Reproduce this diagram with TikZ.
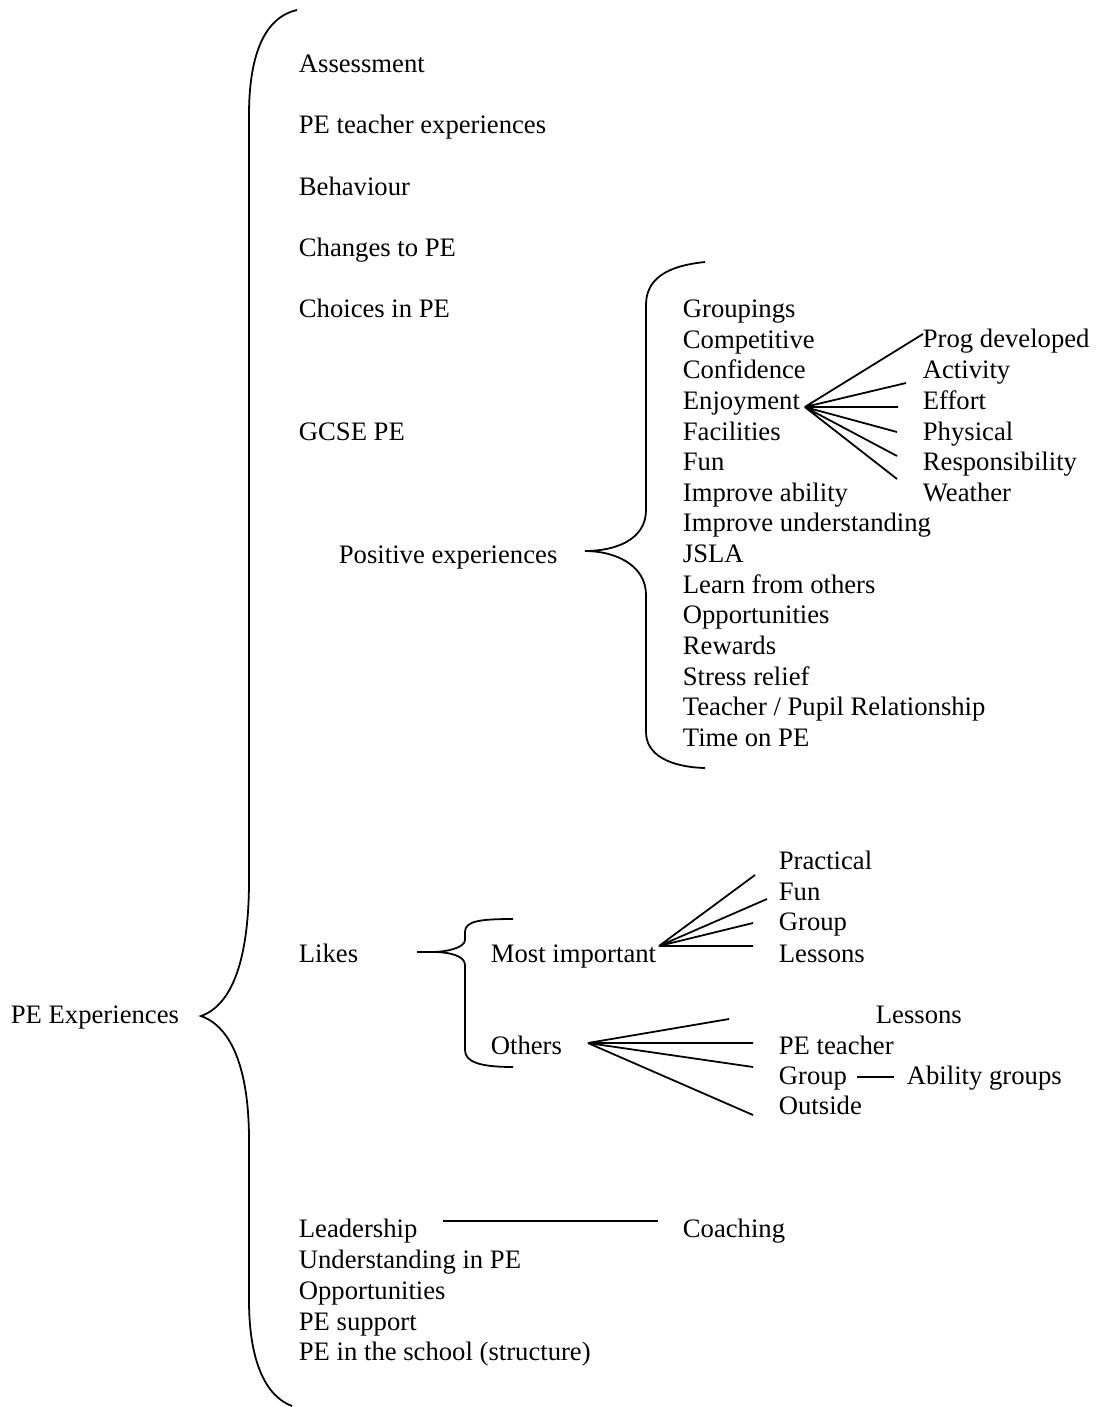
\documentclass[tikz,border=0pt]{standalone}
\usepackage{fontspec}
\setmainfont{Liberation Serif}
\usepackage{tikz}
\usetikzlibrary{calc, positioning}
\tikzset{>=stealth}
\tikzset{lbl/.style={anchor=base west, inner sep=0pt, font=\fontsize{12}{14}\selectfont}}

\begin{document}
\begin{tikzpicture}[x=0.45pt, y=-0.45pt, line width=0.8pt]
			\useasboundingbox (0,0) rectangle (1097,1407);
			\node[lbl] (pe) at (10,1023) {PE Experiences};
			\draw (297,10) .. controls (262,18) and (249,60) .. (249,115) -- (249,880) .. controls (249,960) and (232,1005) .. (201,1016) .. controls (232,1027) and (249,1070) .. (249,1140) -- (249,1300) .. controls (249,1360) and (265,1396) .. (292,1406);
			\node[lbl] (assess) at (298,72) {Assessment};
			\node[lbl] (peteach) at (298,133) {PE teacher experiences};
			\node[lbl] (behav) at (298,195) {Behaviour};
			\node[lbl] (changes) at (298,256) {Changes to PE};
			\node[lbl] (choices) at (298,317) {Choices in PE};
			\node[lbl] (gcse) at (298,440) {GCSE PE};
			\node[lbl] (posexp) at (338,563) {Positive experiences};
			\draw (705,262) .. controls (665,266) and (646,280) .. (646,305) -- (646,510) .. controls (646,540) and (615,551) .. (585,551) .. controls (615,551) and (646,565) .. (646,595) -- (646,732) .. controls (646,755) and (670,767) .. (705,768);
			\node[lbl] (pos1) at (682,317) {Groupings};
			\node[lbl] (pos2) at (682,348) {Competitive};
			\node[lbl] (pos3) at (682,378) {Confidence};
			\node[lbl] (pos4) at (682,409) {Enjoyment};
			\node[lbl] (pos5) at (682,440) {Facilities};
			\node[lbl] (pos6) at (682,470) {Fun};
			\node[lbl] (pos7) at (682,501) {Improve ability};
			\node[lbl] (pos8) at (682,531) {Improve understanding};
			\node[lbl] (pos9) at (682,562) {JSLA};
			\node[lbl] (pos10) at (682,593) {Learn from others};
			\node[lbl] (pos11) at (682,623) {Opportunities};
			\node[lbl] (pos12) at (682,654) {Rewards};
			\node[lbl] (pos13) at (682,685) {Stress relief};
			\node[lbl] (pos14) at (682,715) {Teacher / Pupil Relationship};
			\node[lbl] (pos15) at (682,746) {Time on PE};
			\node[lbl] (enj1) at (922,347) {Prog developed};
			\node[lbl] (enj2) at (922,378) {Activity};
			\node[lbl] (enj3) at (922,409) {Effort};
			\node[lbl] (enj4) at (922,440) {Physical};
			\node[lbl] (enj5) at (922,470) {Responsibility};
			\node[lbl] (enj6) at (922,501) {Weather};
			\coordinate (enjhub) at ($(pos4.base east)+(4,-2)$);
			\coordinate (enjtip1) at (923,334);
			\coordinate (enjtip2) at (906,383);
			\coordinate (enjtip3) at (898,407);
			\coordinate (enjtip4) at (897,432);
			\coordinate (enjtip5) at (897,456);
			\coordinate (enjtip6) at (897,479);
			\draw (enjhub) -- (enjtip1) (enjhub) -- (enjtip2) (enjhub) -- (enjtip3) (enjhub) -- (enjtip4) (enjhub) -- (enjtip5) (enjhub) -- (enjtip6);
			\node[lbl] (likes) at (298,962) {Likes};
			\draw (513,919) .. controls (480,919) and (465,921) .. (465,932) -- (465,940) .. controls (465,948) and (445,952) .. (433,952) -- (417,952);
			\draw (433,952) .. controls (450,952) and (465,956) .. (465,965) -- (465,1050) .. controls (465,1062) and (480,1067) .. (513,1067);
			\node[lbl] (most) at (490,962) {Most important};
			\node[lbl] (others) at (490,1054) {Others};
			\node[lbl] (mi1) at (778,869) {Practical};
			\node[lbl] (mi2) at (778,900) {Fun};
			\node[lbl] (mi3) at (778,930) {Group};
			\node[lbl] (mi4) at (778,962) {Lessons};
			\coordinate (mihub) at ($(most.base east)+(2,-16)$);
			\coordinate (mitip1) at (755,875);
			\coordinate (mitip2) at (767,899);
			\coordinate (mitip3) at (753,923);
			\coordinate (mitip4) at (753,946);
			\draw (mihub) -- (mitip1) (mihub) -- (mitip2) (mihub) -- (mitip3) (mihub) -- (mitip4);
			\node[lbl] (olessons) at (875,1023) {Lessons};
			\node[lbl] (oteach) at (778,1054) {PE teacher};
			\node[lbl] (ogroup) at (778,1084) {Group};
			\node[lbl] (oabil) at (906,1084) {Ability groups};
			\node[lbl] (oout) at (778,1114) {Outside};
			\coordinate (othub) at ($(others.base east)+(25,-11)$);
			\coordinate (ottip1) at (729,1019);
			\coordinate (ottip2) at (753,1043);
			\coordinate (ottip3) at (753,1067);
			\coordinate (ottip4) at (753,1115);
			\draw (othub) -- (ottip1) (othub) -- (ottip2) (othub) -- (ottip3) (othub) -- (ottip4);
			\draw ($(ogroup.base east)+(9,-7)$) -- ($(oabil.base west)+(-12,-7)$);
			\node[lbl] (lead) at (298,1237) {Leadership};
			\node[lbl] (underst) at (298,1268) {Understanding in PE};
			\node[lbl] (opps) at (298,1299) {Opportunities};
			\node[lbl] (support) at (298,1330) {PE support};
			\node[lbl] (school) at (298,1360) {PE in the school (structure)};
			\node[lbl] (coach) at (682,1237) {Coaching};
			\draw ($(lead.base east)+(25,-16)$) -- ($(coach.base west)+(-24,-16)$);
		\end{tikzpicture}
\end{document}
